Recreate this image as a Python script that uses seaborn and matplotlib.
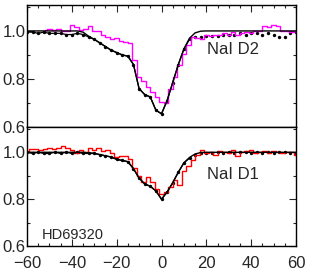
#line profiles of NaI D2 / D1 toward HD69320 with model fits

import numpy as np
import pandas as pd
import seaborn as sns
import matplotlib
matplotlib.use("Agg")
import matplotlib.pyplot as plt
from matplotlib.ticker import MultipleLocator

sns.set_style("ticks")
plt.rcParams['font.family'] = ['Liberation Sans', 'DejaVu Sans']
plt.rcParams['axes.unicode_minus'] = True

#observed spectra (step histograms)
d2_obs_v = [-52, -50, -48, -46, -44, -42, -40, -38, -36, -34, -32, -30, -28, -26, -24, -22, -20, -18, -16, -14,
            -12, -10, -8, -6, -4, -2, 0, 2, 4, 6, 8, 10, 12, 14, 16, 18, 20, 22, 24, 26, 28, 30, 32, 34, 36, 38,
            40, 42, 44, 46, 48, 50, 52, 54, 56, 58, 60]
d2_obs_f = [1.005, 1.01, 1.005, 1.01, 1.0, 1.0, 1.025, 1.015, 1.005, 1.01, 1.02, 1.0, 1.0, 0.985, 0.975, 0.965,
            0.97, 0.96, 0.955, 0.95, 0.88, 0.81, 0.79, 0.765, 0.745, 0.725, 0.705, 0.70, 0.76, 0.81, 0.86, 0.905,
            0.94, 0.975, 0.97, 0.965, 0.985, 0.98, 0.985, 0.985, 0.99, 0.985, 0.995, 0.985, 0.99, 0.995, 0.99,
            1.0, 1.0, 1.02, 1.015, 1.025, 1.02, 1.0, 1.0, 0.995, 1.0]

d1_obs_v = [-60, -58, -56, -54, -52, -50, -48, -46, -44, -42, -40, -38, -36, -34, -32, -30, -28, -26, -24, -22,
            -20, -18, -16, -14, -12, -10, -8, -6, -4, -2, 0, 2, 4, 6, 8, 10, 12, 14, 16, 18, 20, 22, 24, 26, 28,
            30, 32, 34, 36, 38, 40, 42, 44, 46, 48, 50, 52, 54, 56, 58, 60]
d1_obs_f = [1.0, 1.015, 1.015, 1.01, 1.015, 1.02, 1.015, 1.02, 1.025, 1.02, 1.01, 0.995, 1.01, 1.0, 1.02,
            1.01, 1.02, 1.005, 1.01, 0.995, 0.98, 0.985, 0.985, 0.97, 0.935, 0.9, 0.875, 0.895, 0.875, 0.845,
            0.82, 0.83, 0.85, 0.88, 0.86, 0.92, 0.94, 0.965, 0.99, 1.01, 0.995, 1.0, 0.99, 1.005, 1.0, 0.995,
            1.01, 0.985, 1.0, 1.005, 1.01, 0.995, 1.0, 1.005, 0.995, 1.005, 1.0, 0.995, 1.0, 1.0, 0.99]

#data points (black dots)
pts_v = [-60, -57.5, -55, -52.5, -50, -47.5, -45, -42.5, -40, -37.5, -35, -32.5, -30, -27.5, -25, -22.5, -20,
         -17.5, -15, -12.5, -10, -7.5, -5, -2.5, 0, 2.5, 5, 7.5, 10, 12.5, 15, 17.5, 20, 22.5, 25, 27.5, 30,
         32.5, 35, 37.5, 40, 42.5, 45, 47.5, 50, 52.5, 55, 57.5, 60]
d2_pts = [0.995, 0.995, 0.99, 0.995, 0.99, 0.99, 0.99, 0.985, 0.985, 0.99, 0.985, 0.975, 0.965, 0.95, 0.935,
          0.92, 0.91, 0.9, 0.895, 0.86, 0.76, 0.735, 0.725, 0.67, 0.655, 0.71, 0.785, 0.86, 0.925, 0.965,
          0.975, 0.975, 0.98, 0.98, 0.98, 0.985, 0.985, 0.985, 0.99, 0.985, 0.99, 0.99, 0.985, 0.99, 0.985,
          0.975, 0.975, 0.99, 0.995]
d1_pts = [1.0, 0.995, 1.0, 0.995, 0.995, 1.0, 0.995, 1.0, 0.995, 1.0, 0.995, 0.995, 0.995, 0.99, 0.985, 0.98,
          0.97, 0.965, 0.96, 0.93, 0.89, 0.865, 0.855, 0.835, 0.80, 0.83, 0.87, 0.915, 0.955, 0.975, 0.99,
          0.995, 0.995, 0.995, 1.0, 0.995, 1.0, 0.995, 1.0, 1.0, 0.995, 1.0, 0.995, 1.0, 0.995, 1.0, 1.0,
          0.995, 0.995]

#model fits (smooth)
fit_v = [-60, -37.5, -35, -32.5, -30, -27.5, -25, -22.5, -20, -17.5, -15, -12.5, -10, -7.5, -5, -2.5, 0, 2.5,
         5, 7.5, 10, 12.5, 15, 17.5, 20, 60]
d2_fit = [1.0, 1.0, 0.995, 0.978, 0.965, 0.95, 0.935, 0.92, 0.91, 0.9, 0.895, 0.86, 0.76, 0.735, 0.725, 0.67,
          0.655, 0.71, 0.785, 0.86, 0.925, 0.97, 0.992, 0.999, 1.0, 1.0]
d1_fit = [1.0, 1.0, 1.0, 0.998, 0.996, 0.99, 0.985, 0.98, 0.97, 0.965, 0.96, 0.93, 0.89, 0.865, 0.855, 0.835,
          0.80, 0.83, 0.87, 0.915, 0.955, 0.978, 0.993, 0.999, 1.0, 1.0]

W, H = 311, 273
fig = plt.figure(figsize=(W/100, H/100), dpi=100)
x0, x1 = 27/W, 296/W
ax_top = fig.add_axes([x0, 1-127/H, x1-x0, (127-5)/H])
ax_bot = fig.add_axes([x0, 1-246/H, x1-x0, (246-127)/H])

def panel(ax, obs_v, obs_f, col, pts, fit):
	sns.lineplot(x=obs_v, y=obs_f, ax=ax, color=col, lw=1.0, drawstyle="steps-mid", sort=False)
	sns.lineplot(x=fit_v, y=fit, ax=ax, color="black", lw=1.0, sort=False)
	df = pd.DataFrame({"v": pts_v, "f": pts})
	left = df[df["v"] <= 12.5]
	sns.lineplot(data=left, x="v", y="f", ax=ax, color="black", lw=0.9, sort=False)
	sns.scatterplot(data=df, x="v", y="f", ax=ax, color="black", s=6, marker="o", linewidth=0)
	ax.set_xlim(-60, 60)
	ax.set_ylim(0.6, 1.108)
	ax.set_xlabel("")
	ax.set_ylabel("")
	ax.set_yticks([0.6, 0.8, 1.0])
	ax.set_yticklabels(["0.6", "0.8", "1.0"])
	ax.yaxis.set_minor_locator(MultipleLocator(0.1))
	ax.xaxis.set_major_locator(MultipleLocator(20))
	ax.xaxis.set_minor_locator(MultipleLocator(5))
	ax.tick_params(which="both", direction="in", right=True, labelsize=12, width=0.8)
	ax.tick_params(axis="y", pad=1)
	ax.tick_params(axis="x", pad=7)
	ax.tick_params(which="major", length=5)
	ax.tick_params(which="minor", length=2.5)
	for s in ax.spines.values():
		s.set_linewidth(1.0)
		s.set_color("black")

panel(ax_top, d2_obs_v, d2_obs_f, "#ff00ff", d2_pts, d2_fit)
panel(ax_bot, d1_obs_v, d1_obs_f, "#ff0000", d1_pts, d1_fit)

ax_top.text(20.5, 0.905, "NaI D2", fontsize=12)
ax_bot.text(20.5, 0.885, "NaI D1", fontsize=12)
ax_bot.text(-53.5, 0.628, "HD69320", fontsize=10.5)

ax_top.tick_params(which="both", top=True, bottom=False, labelbottom=False)
ax_bot.tick_params(which="both", top=False, bottom=True)

plt.savefig("out.png", dpi=100)
